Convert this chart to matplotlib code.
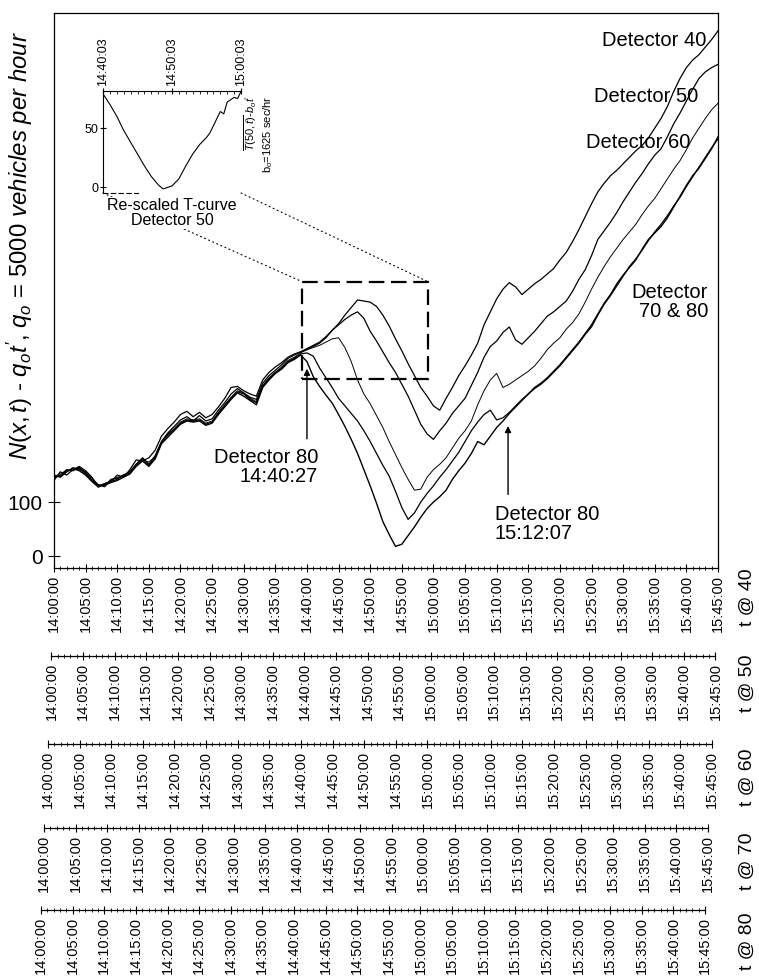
import matplotlib
matplotlib.use("Agg")
import matplotlib.pyplot as plt
from matplotlib.patches import Rectangle, ConnectionPatch

plt.rcParams['font.family'] = ['Liberation Sans', 'DejaVu Sans']
plt.rcParams['mathtext.fontset'] = 'custom'
plt.rcParams['mathtext.rm'] = 'Liberation Sans'
plt.rcParams['mathtext.it'] = 'Liberation Sans:italic'
plt.rcParams['mathtext.bf'] = 'Liberation Sans:bold'

# minutes after 14:00:00 (time at detector 40)
minutes = list(range(106))

det40 = [140, 156, 150, 160, 166, 158, 146, 128, 134, 138, 150, 146, 160, 178, 176, 182, 196, 222, 236, 248,
         262, 268, 258, 266, 256, 262, 276, 292, 312, 314, 306, 300, 296, 326, 340, 350, 358, 368, 374, 378,
         382, 388, 394, 404, 418, 430, 446, 460, 474, 472, 470, 462, 446, 426, 402, 380, 356, 334, 312, 296,
         278, 270, 292, 312, 334, 352, 372, 394, 428, 452, 476, 494, 506, 498, 484, 494, 504, 512, 522, 532,
         548, 562, 582, 604, 628, 652, 674, 690, 704, 714, 726, 738, 750, 760, 774, 792, 810, 832, 860, 884,
         904, 918, 928, 942, 956, 972]
det50 = [148, 150, 160, 158, 164, 154, 144, 132, 130, 142, 144, 150, 156, 170, 182, 170, 186, 212, 228, 240,
         252, 258, 250, 260, 250, 254, 270, 284, 300, 310, 302, 294, 290, 320, 334, 344, 354, 366, 372, 378,
         384, 390, 396, 406, 418, 428, 438, 446, 452, 440, 416, 398, 378, 358, 340, 318, 296, 270, 244, 226,
         216, 232, 246, 264, 278, 292, 316, 340, 368, 388, 398, 414, 424, 400, 392, 404, 416, 430, 444, 452,
         462, 472, 490, 512, 530, 556, 586, 602, 618, 636, 656, 674, 692, 708, 726, 742, 754, 776, 800, 820,
         842, 864, 884, 896, 904, 910]
det60 = [144, 154, 156, 164, 160, 156, 140, 132, 128, 140, 146, 148, 156, 170, 178, 174, 184, 212, 226, 236,
         248, 254, 252, 254, 246, 250, 266, 280, 294, 306, 302, 292, 286, 316, 330, 340, 350, 362, 368, 376,
         382, 386, 390, 396, 402, 404, 386, 360, 326, 300, 282, 260, 238, 212, 188, 164, 142, 122, 124, 146,
         160, 170, 182, 200, 218, 232, 250, 280, 306, 326, 338, 312, 318, 326, 334, 342, 352, 366, 382, 394,
         404, 420, 432, 448, 470, 494, 516, 536, 554, 570, 586, 600, 614, 632, 648, 662, 680, 698, 716, 732,
         752, 774, 792, 810, 826, 838]
det70 = [146, 148, 158, 160, 162, 152, 140, 130, 134, 138, 142, 150, 154, 168, 180, 168, 182, 210, 224, 234,
         246, 252, 250, 252, 244, 248, 264, 278, 292, 304, 300, 290, 284, 314, 328, 340, 348, 360, 366, 374,
         376, 370, 348, 330, 312, 292, 278, 264, 250, 232, 212, 190, 168, 148, 120, 90, 68, 80, 100, 116,
         130, 146, 160, 176, 192, 212, 232, 248, 262, 270, 252, 256, 266, 278, 290, 300, 310, 318, 328, 340,
         352, 366, 380, 394, 410, 424, 446, 466, 482, 500, 518, 536, 550, 566, 584, 600, 614, 630, 648, 664,
         684, 702, 720, 738, 756, 772]
det80 = [150, 146, 156, 162, 158, 150, 138, 128, 132, 136, 140, 146, 152, 166, 176, 166, 180, 208, 220, 232,
         244, 250, 248, 250, 242, 246, 262, 276, 290, 302, 296, 288, 280, 312, 326, 338, 346, 358, 364, 372,
         360, 332, 314, 298, 283, 262, 240, 216, 190, 160, 130, 98, 64, 40, 18, 22, 38, 54, 72, 88,
         100, 110, 122, 142, 158, 172, 190, 212, 206, 222, 238, 250, 264, 276, 288, 300, 312, 320, 330, 342,
         354, 368, 382, 396, 412, 428, 448, 468, 484, 504, 520, 534, 548, 568, 586, 598, 610, 626, 646, 666,
         686, 704, 718, 736, 754, 776]

tick_minutes = list(range(0, 106, 5))
tick_labels = ["14:00:00", "14:05:00", "14:10:00", "14:15:00", "14:20:00", "14:25:00", "14:30:00",
               "14:35:00", "14:40:00", "14:45:00", "14:50:00", "14:55:00", "15:00:00", "15:05:00",
               "15:10:00", "15:15:00", "15:20:00", "15:25:00", "15:30:00", "15:35:00", "15:40:00",
               "15:45:00"]
axis_names = ["t @ 40", "t @ 50", "t @ 60", "t @ 70", "t @ 80"]
axis_shift = [0, -0.4, -0.95, -1.6, -2.05]   # minutes

# re-scaled T-curve, detector 50 (minutes after 14:40:03)
inset_minutes = [0, 1, 2, 3, 4, 5, 6, 7, 8, 8.7, 9, 10, 11, 12, 13, 14, 15, 15.5, 16, 16.5, 17, 17.5, 18,
                 19, 19.5, 20]
inset_values = [79, 70, 60, 48, 38, 28, 18, 9, 2, -1.5, -1, 1, 7, 18, 28, 36, 42, 46, 52, 58, 64, 62, 72,
                76, 75, 81]

W, H = 759, 980


def rect(x0, y0, x1, y1):
    return [x0 / W, 1 - y1 / H, (x1 - x0) / W, (y1 - y0) / H]


fig = plt.figure(figsize=(W / 100, H / 100), dpi=100)

# main panel
ax = fig.add_axes(rect(54, 13, 718, 568))
for d, lw in [(det40, 0.9), (det50, 0.9), (det60, 0.7), (det70, 0.9), (det80, 1.0)]:
    ax.plot(minutes, d, color='black', lw=lw)
ax.set_xlim(0, 105)
ax.set_ylim(-22, 1005)
ax.set_yticks([0, 100])
ax.tick_params(axis='y', direction='inout', length=9, labelsize=15, width=0.8)
ax.set_xticks(tick_minutes)
ax.set_xticklabels(tick_labels, rotation=90, fontsize=10.5)
ax.set_xticks(minutes, minor=True)
ax.tick_params(axis='x', which='major', direction='inout', length=6, width=0.8, pad=2)
ax.tick_params(axis='x', which='minor', direction='inout', length=3, width=0.6)
for s in ax.spines.values():
    s.set_linewidth(0.9)

# shifted time axes for the other detectors
px_per_min = 664 / 105
for shift, yl in zip(axis_shift[1:], [656, 744, 828, 910]):
    x0 = 54 + shift * px_per_min
    a = fig.add_axes(rect(x0, yl - 1, x0 + 664, yl))
    a.set_xlim(0, 105)
    a.set_ylim(0, 1)
    a.patch.set_visible(False)
    for side in ['left', 'right', 'top']:
        a.spines[side].set_visible(False)
    a.spines['bottom'].set_linewidth(0.9)
    a.set_yticks([])
    a.set_xticks(tick_minutes)
    a.set_xticklabels(tick_labels, rotation=90, fontsize=10.5)
    a.set_xticks(minutes, minor=True)
    a.tick_params(axis='x', which='major', direction='inout', length=6, width=0.8, pad=2)
    a.tick_params(axis='x', which='minor', direction='inout', length=3, width=0.6)

for name, yc in zip(axis_names, [597, 683, 777, 861, 941]):
    fig.text(747 / W, 1 - yc / H, name, rotation=90, ha='center', va='center', fontsize=14)

fig.text(20 / W, 1 - 246 / H,
         r"$N(x,t)$ - $q_o t'$, $q_o$ = 5000 $vehicles\ per\ hour$",
         rotation=90, ha='center', va='center', fontsize=17.3)

# curve labels
fig.text(706 / W, 1 - 40 / H, "Detector 40", ha='right', va='center', fontsize=14.5)
fig.text(698 / W, 1 - 97 / H, "Detector 50", ha='right', va='center', fontsize=14.5)
fig.text(690 / W, 1 - 143 / H, "Detector 60", ha='right', va='center', fontsize=14.5)
fig.text(708 / W, 1 - 302 / H, "Detector\n70 & 80", ha='right', va='center', fontsize=14.5,
         multialignment='right', linespacing=1.05)
fig.text(318 / W, 1 - 467 / H, "Detector 80\n14:40:27", ha='right', va='center', fontsize=14.5,
         multialignment='right', linespacing=1.05)
fig.text(495 / W, 1 - 524 / H, "Detector 80\n15:12:07", ha='left', va='center', fontsize=14.5,
         multialignment='left', linespacing=1.05)

ax.annotate('', xy=(40.0, 352), xytext=(40.0, 212),
            arrowprops=dict(arrowstyle='-|>', lw=1, color='black', mutation_scale=9))
ax.annotate('', xy=(71.8, 246), xytext=(71.8, 109),
            arrowprops=dict(arrowstyle='-|>', lw=1, color='black', mutation_scale=9))

# zoom window
ax.add_patch(Rectangle((39.2, 328), 59.1 - 39.2, 508 - 328, fill=False, ls=(0, (7, 3)), lw=1.6,
                       color='black'))

# inset
ax_in = fig.add_axes(rect(103, 91, 241, 193))
ax_in.plot(inset_minutes, inset_values, color='black', lw=0.8)
ax_in.set_xlim(0, 20)
ax_in.set_ylim(-5, 81.4)
ax_in.patch.set_visible(False)
ax_in.xaxis.tick_top()
ax_in.set_xticks([0, 10, 20])
ax_in.set_xticklabels(["14:40:03", "14:50:03", "15:00:03"], rotation=90, fontsize=9)
ax_in.set_xticks(range(21), minor=True)
ax_in.tick_params(axis='x', which='major', direction='inout', length=5, pad=1)
ax_in.tick_params(axis='x', which='minor', direction='in', length=2)
ax_in.set_yticks([0, 50])
ax_in.tick_params(axis='y', direction='inout', length=5, labelsize=9, pad=1)
ax_in.spines['right'].set_visible(False)
ax_in.spines['bottom'].set_linestyle((0, (4, 3)))
ax_in.spines['bottom'].set_bounds(0, 5)

fig.text(251 / W, 1 - 95 / H, r"$\overline{T(50,t)}$-$b_o t'$", rotation=90, ha='center', va='top',
         fontsize=8)
fig.text(268 / W, 1 - 96 / H, r"b$_o$=1625 sec/hr", rotation=90, ha='center', va='top', fontsize=8)
fig.text(172 / W, 1 - 213 / H, "Re-scaled T-curve\nDetector 50", ha='center', va='center', fontsize=11.5,
         linespacing=1.0, bbox=dict(facecolor='white', edgecolor='none', pad=0.5))

for xa, xb in [(0, 39.2), (20, 59.1)]:
    con = ConnectionPatch(xyA=(xa, -5), coordsA=ax_in.transData, xyB=(xb, 508), coordsB=ax.transData,
                          ls=(0, (1, 3)), lw=0.8, color='black')
    fig.add_artist(con)

fig.savefig("out.png", dpi=100)
